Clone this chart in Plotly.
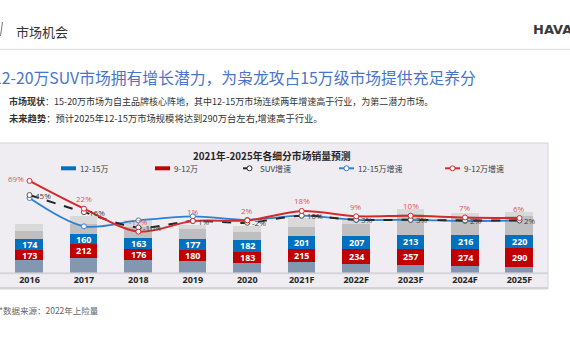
import plotly.graph_objects as go

years = ["2016", "2017", "2018", "2019", "2020", "2021F", "2022F", "2023F", "2024F", "2025F"]
seg_base = [190, 235, 200, 180, 145, 160, 130, 120, 105, 90]      # lowest segment (grey-blue)
seg_9_12 = [173, 212, 176, 180, 183, 215, 234, 257, 274, 290]     # 9-12万
seg_12_15 = [174, 160, 163, 177, 182, 201, 207, 213, 216, 220]    # 12-15万
seg_grey = [115, 160, 185, 150, 135, 140, 190, 335, 280, 300]
seg_light = [120, 125, 105, 65, 90, 140, 65, 85, 60, 60]

g_suv = [45, 16, -10, 1, -2, 10, 3, 3, 2, 2]
g_12_15 = [40, -8, 2, 9, 3, 10, 3, 3, 1, 2]
g_9_12 = [69, 22, -17, 1, 2, 18, 9, 10, 7, 6]
lbl_suv = ["45%", "16%", "-10%", "1%", "-2%", "10%", "3%", "3%", "2%", "2%"]
lbl_9_12 = ["69%", "22%", "-17%", "1%", "2%", "18%", "9%", "10%", "7%", "6%"]

W, H = 570, 360
def px(x):
    return x / W
def py(y):
    return 1 - y / H

CJK = "Noto Sans CJK SC"
NUM = "Open Sans"

fig = go.Figure()
bar_w = 0.507
for vals, col in [(seg_base, "#8497b0"), (seg_9_12, "#c00000"), (seg_12_15, "#0070c0"),
                  (seg_grey, "#bfbfbf"), (seg_light, "#d9d9d9")]:
    fig.add_trace(go.Bar(x=years, y=vals, marker=dict(color=col, line=dict(width=0)),
                         width=bar_w, showlegend=False, hoverinfo="skip"))

line_style = dict(shape="spline", smoothing=0.9)
fig.add_trace(go.Scatter(x=years, y=g_12_15, yaxis="y2", mode="lines+markers",
                         line=dict(color="#2f80d0", width=1.8, **line_style),
                         marker=dict(size=5, color="white", line=dict(color="#2f80d0", width=1)),
                         showlegend=False))
fig.add_trace(go.Scatter(x=years, y=g_suv, yaxis="y2", mode="lines+markers",
                         line=dict(color="#262626", width=2, dash="dash", **line_style),
                         marker=dict(size=5, color="white", line=dict(color="#555555", width=1)),
                         showlegend=False))
fig.add_trace(go.Scatter(x=years, y=g_9_12, yaxis="y2", mode="lines+markers",
                         line=dict(color="#d42a2a", width=2, **line_style),
                         marker=dict(size=5, color="white", line=dict(color="#d42a2a", width=1)),
                         showlegend=False))

ann = []
for i, yr in enumerate(years):
    b = seg_base[i]
    r = seg_9_12[i]
    bl = seg_12_15[i]
    ann.append(dict(x=i, y=b + r / 2, xref="x", yref="y", text=f"<b>{r}</b>", showarrow=False,
                    font=dict(family=NUM, size=9, color="white")))
    ann.append(dict(x=i, y=b + r + bl / 2, xref="x", yref="y", text=f"<b>{bl}</b>", showarrow=False,
                    font=dict(family=NUM, size=9, color="white")))
    if i == 0:
        ann.append(dict(x=i, y=g_9_12[i], xref="x", yref="y2", text=lbl_9_12[i], showarrow=False,
                        xanchor="right", xshift=-4, yshift=2,
                        font=dict(family=NUM, size=8, color="#e05555")))
    else:
        ann.append(dict(x=i, y=g_9_12[i], xref="x", yref="y2", text=lbl_9_12[i], showarrow=False,
                        yshift=10, font=dict(family=NUM, size=8, color="#e05555")))
    ann.append(dict(x=i, y=g_suv[i], xref="x", yref="y2", text=lbl_suv[i], showarrow=False,
                    xanchor="left", xshift=3, font=dict(family=NUM, size=8, color="#404040")))

ann += [
    dict(x=px(13.5), y=py(20), xref="paper", yref="paper", text="市场机会", showarrow=False,
         xanchor="left", font=dict(family=CJK, size=13, color="#333333")),
    dict(x=px(531), y=py(20), xref="paper", yref="paper", text="<b>HAVAL</b>", showarrow=False,
         xanchor="left", font=dict(family="DejaVu Sans", size=13, color="#3a3a3a")),
    dict(x=px(-9), y=py(64), xref="paper", yref="paper",
         text="12-20万SUV市场拥有增长潜力，为枭龙攻占15万级市场提供充足养分", showarrow=False,
         xanchor="left", font=dict(family=CJK, size=15.8, color="#4a74c9")),
    dict(x=px(6.5), y=py(92.5), xref="paper", yref="paper",
         text="<b>市场现状</b>：15-20万市场为自主品牌核心阵地，其中12-15万市场连续两年增速高于行业，为第二潜力市场。",
         showarrow=False, xanchor="left", font=dict(family=CJK, size=9, color="#333333")),
    dict(x=px(6.5), y=py(108.5), xref="paper", yref="paper",
         text="<b>未来趋势</b>：预计2025年12-15万市场规模将达到290万台左右,增速高于行业。",
         showarrow=False, xanchor="left", font=dict(family=CJK, size=9.3, color="#333333")),
    dict(x=px(-3), y=py(318), xref="paper", yref="paper", text="*数据来源：2022年上险量",
         showarrow=False, xanchor="left", font=dict(family=CJK, size=8.5, color="#666666")),
    dict(x=px(271.5), y=py(155.7), xref="paper", yref="paper",
         text="<b>2021年-2025年各细分市场销量预测</b>", showarrow=False,
         font=dict(family=CJK, size=9.8, color="#262626")),
]

shapes = [
    dict(type="rect", xref="paper", yref="paper", x0=px(-3), x1=px(548), y0=py(289), y1=py(143),
         fillcolor="#efedf2", line=dict(color="#d4d4d4", width=1), layer="below"),
    dict(type="line", xref="paper", yref="paper", x0=px(-3), x1=px(548), y0=py(288), y1=py(288),
         line=dict(color="#d4d4d4", width=2), layer="below"),
    dict(type="line", xref="paper", yref="paper", x0=px(-3), x1=px(548), y0=py(273.3), y1=py(273.3),
         line=dict(color="#d6d4da", width=2), layer="below"),
    dict(type="line", xref="paper", yref="paper", x0=0, x1=1, y0=py(49.3), y1=py(49.3),
         line=dict(color="#dedede", width=1)),
    dict(type="line", xref="paper", yref="paper", x0=px(2.5), x1=px(0.5), y0=py(22), y1=py(36),
         line=dict(color="#777777", width=1)),
]

leg_y = 168.3
leg_items = [
    (61, 76, "#0070c0", "solid", 4, False, "12-15万"),
    (155, 170, "#c00000", "solid", 4, False, "9-12万"),
    (243, 256, "#262626", "dash", 2, True, "SUV增速"),
    (339, 354, "#2f80d0", "solid", 2, True, "12-15万增速"),
    (445, 460, "#d42a2a", "solid", 2, True, "9-12万增速"),
]
for x0, x1, col, dash, w, mk, txt in leg_items:
    shapes.append(dict(type="line", xref="paper", yref="paper", x0=px(x0), x1=px(x1),
                       y0=py(leg_y), y1=py(leg_y), line=dict(color=col, width=w, dash=dash)))
    if mk:
        cx = (x0 + x1) / 2
        shapes.append(dict(type="circle", xref="paper", yref="paper", x0=px(cx - 2.5), x1=px(cx + 2.5),
                           y0=py(leg_y + 2.5), y1=py(leg_y - 2.5), fillcolor="white",
                           line=dict(color=col, width=1)))
    ann.append(dict(x=px(x1 + 1.5), y=py(leg_y), xref="paper", yref="paper", text=txt, showarrow=False,
                    xanchor="left", font=dict(family=CJK, size=8, color="#404040")))

fig.update_layout(
    width=W, height=H, margin=dict(l=0, r=0, t=0, b=0),
    paper_bgcolor="white", plot_bgcolor="rgba(0,0,0,0)",
    barmode="stack", bargap=0,
    xaxis=dict(type="category", domain=[px(2.28), px(546.7)], range=[-0.5, 9.5],
               showgrid=False, zeroline=False, showline=False, ticks="",
               tickmode="array", tickvals=years, ticktext=[f"<b>{y}</b>" for y in years],
               tickfont=dict(family=NUM, size=9, color="#262626")),
    yaxis=dict(domain=[py(272.5), py(150)], range=[0, 1935.5], visible=False),
    yaxis2=dict(overlaying="y", range=[-86.3, 121.4], visible=False),
    annotations=ann, shapes=shapes, showlegend=False,
)
fig.write_html("out.html")
